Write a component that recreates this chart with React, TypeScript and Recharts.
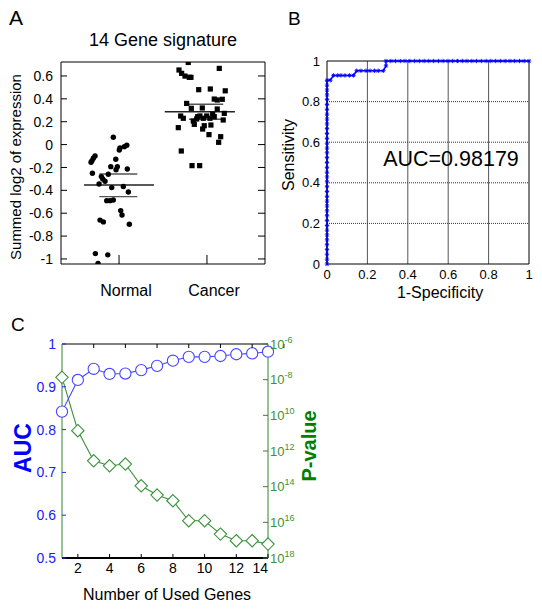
import React from 'react';
import { ScatterChart, Scatter, XAxis, YAxis, ReferenceLine, LineChart, Line, ComposedChart } from 'recharts';

const FONT = '"Liberation Sans", Arial, Helvetica, sans-serif';

// ---------- Panel A data ----------
const categories = ['Normal', 'Cancer'];
const yTicksA = [-1, -0.8, -0.6, -0.4, -0.2, 0, 0.2, 0.4, 0.6];
// [jittered category position, summed log2 expression]
const normalPoints: [number, number][] = [
  [0.935, 0.064], [1.088, -0.006], [1.06, -0.018], [1.011, -0.03], [1.003, -0.047],
  [0.727, -0.1], [0.708, -0.12], [0.693, -0.14], [0.682, -0.155], [0.963, -0.128],
  [0.906, -0.193], [0.981, -0.193], [0.966, -0.22], [1.094, -0.213], [0.697, -0.25],
  [0.799, -0.28], [0.815, -0.3], [0.878, -0.26], [0.841, -0.32], [0.773, -0.344],
  [0.917, -0.376], [1.049, -0.367], [1.106, -0.414], [0.86, -0.49], [0.898, -0.49],
  [0.935, -0.484], [1.019, -0.577], [1.034, -0.615], [0.784, -0.66], [0.822, -0.676],
  [1.117, -0.696], [0.731, -0.953], [0.872, -0.964], [0.761, -1.04],
];
const cancerPoints: [number, number][] = [
  [1.787, 0.718], [2.14, 0.666], [1.682, 0.652], [1.712, 0.623], [1.75, 0.599],
  [1.799, 0.588], [1.818, 0.588], [1.906, 0.48], [2.038, 0.486], [2.208, 0.47],
  [2.083, 0.398], [2.117, 0.39], [2.174, 0.396], [1.769, 0.36], [1.822, 0.317],
  [1.947, 0.32], [2.117, 0.311], [2.197, 0.273], [1.701, 0.25], [1.731, 0.23],
  [1.894, 0.244], [1.92, 0.25], [1.997, 0.25], [2.065, 0.265], [1.844, 0.206],
  [1.883, 0.224], [1.958, 0.23], [2.034, 0.23], [2.083, 0.244], [2.185, 0.215],
  [1.674, 0.148], [1.856, 0.177], [1.969, 0.165], [1.951, 0.136], [2.045, 0.171],
  [2.023, 0.087], [2.156, 0.069], [2.133, 0.02], [1.708, -0.056], [1.83, -0.184],
  [1.917, -0.184],
];
// mean, upper, lower summary lines
const normalSummary = [-0.353, -0.257, -0.455];
const cancerSummary = [0.287, 0.352, 0.221];

// ---------- Panel B data ----------
const rocFpr = [
  0, 0, 0, 0, 0, 0, 0, 0, 0, 0, 0, 0, 0, 0, 0, 0, 0, 0, 0, 0,
  0, 0, 0, 0, 0, 0, 0, 0, 0, 0, 0, 0, 0, 0, 0, 0, 0, 0, 0,
  0.016,
  0.032, 0.053, 0.069, 0.089, 0.111, 0.131,
  0.147, 0.168, 0.193, 0.213, 0.235, 0.254, 0.279,
  0.292, 0.292,
  0.316, 0.339, 0.363, 0.386, 0.41, 0.434, 0.457, 0.481, 0.504, 0.528,
  0.552, 0.575, 0.599, 0.622, 0.646, 0.67, 0.693, 0.717, 0.74, 0.764,
  0.788, 0.811, 0.835, 0.858, 0.882, 0.906, 0.929, 0.953, 0.976, 1.0,
];
const rocTpr = [
  0, 0.024, 0.048, 0.071, 0.095, 0.119, 0.143, 0.167, 0.19, 0.214,
  0.238, 0.262, 0.286, 0.31, 0.333, 0.357, 0.381, 0.405, 0.429, 0.452,
  0.476, 0.5, 0.524, 0.548, 0.571, 0.595, 0.619, 0.643, 0.667, 0.69,
  0.714, 0.738, 0.762, 0.786, 0.81, 0.833, 0.857, 0.881, 0.905,
  0.905,
  0.929, 0.929, 0.929, 0.929, 0.929, 0.929,
  0.952, 0.952, 0.952, 0.952, 0.952, 0.952, 0.952,
  0.976, 1,
  1, 1, 1, 1, 1, 1, 1, 1, 1, 1,
  1, 1, 1, 1, 1, 1, 1, 1, 1, 1,
  1, 1, 1, 1, 1, 1, 1, 1, 1, 1,
];
const unitTicks = [0, 0.2, 0.4, 0.6, 0.8, 1];
const gridTicks = [0.2, 0.4, 0.6, 0.8];
const aucLabel = 'AUC=0.98179';

// ---------- Panel C data ----------
const usedGenes = [1, 2, 3, 4, 5, 6, 7, 8, 9, 10, 11, 12, 13, 14];
const aucValues = [0.842, 0.916, 0.942, 0.93, 0.931, 0.939, 0.949, 0.961, 0.97, 0.97, 0.972, 0.976, 0.978, 0.982];
const pLog10 = [-7.87, -10.86, -12.55, -12.83, -12.73, -13.95, -14.47, -14.79, -15.91, -15.91, -16.66, -17.03, -17.03, -17.22];
const geneTicks = [2, 4, 6, 8, 10, 12, 14];
const aucTicks = [0.5, 0.6, 0.7, 0.8, 0.9, 1];
const pTicks = [-18, -16, -14, -12, -10, -8, -6];

const BLUE = '#0000ff';
const GREEN_AXIS = '#2f862f';
const GREEN = '#3a923a';
const C_BLUE = '#4646ff';

// ---------- tick renderers ----------
const leftTick = (len: number, gap: number, size: number, color: string, lineColor?: string) => (p: any) => (
  <g>
    {len > 0 ? <line x1={p.x} x2={p.x + len} y1={p.y} y2={p.y} stroke={lineColor || color} strokeWidth={1} /> : null}
    <text x={p.x - gap} y={p.y} dy="0.36em" textAnchor="end" fontSize={size} fill={color}>
      {String(p.payload.value)}
    </text>
  </g>
);
const rightTickLine = (len: number, color: string) => (p: any) => (
  <g>
    <line x1={p.x} x2={p.x - len} y1={p.y} y2={p.y} stroke={color} strokeWidth={1} />
  </g>
);
const topTickLine = (len: number, color: string) => (p: any) => (
  <g>
    <line x1={p.x} x2={p.x} y1={p.y} y2={p.y + len} stroke={color} strokeWidth={1} />
  </g>
);

const catTick = (p: any) => (
  <g>
    <line x1={p.x} x2={p.x} y1={p.y} y2={p.y - 9} stroke="#000" strokeWidth={1} />
    <text x={p.x + 7} y={p.y + 32} textAnchor="middle" fontSize={16} fill="#000">
      {categories[Math.round(p.payload.value) - 1]}
    </text>
  </g>
);

const bottomNumTick = (size: number, dy: number, len: number, lastEnd: boolean) => (p: any) => {
  const isLast = lastEnd && p.index === (p.visibleTicksCount ? p.visibleTicksCount - 1 : -1);
  const v = p.payload.value;
  const endAligned = lastEnd && v === geneTicks[geneTicks.length - 1];
  return (
    <g>
      {len > 0 ? <line x1={p.x} x2={p.x} y1={p.y} y2={p.y - len} stroke="#000" strokeWidth={1} /> : null}
      <text x={endAligned || isLast ? p.x : p.x} y={p.y + dy} textAnchor={endAligned ? 'end' : 'middle'} fontSize={size} fill="#000">
        {String(v)}
      </text>
    </g>
  );
};

const pTick = (p: any) => {
  const v = p.payload.value;
  const sup = v >= -8 ? String(v) : String(-v);
  return (
    <g>
      <line x1={p.x} x2={p.x - 5} y1={p.y} y2={p.y} stroke={GREEN_AXIS} strokeWidth={1} />
      <text x={p.x + 2} y={p.y} dy="0.36em" fontSize={13} fill={GREEN}>
        10
        <tspan dy={-6} fontSize={9}>{sup}</tspan>
      </text>
    </g>
  );
};

// ---------- shapes ----------
const dotShape = (p: any) => <circle cx={p.cx} cy={p.cy} r={2.7} fill="#000" />;
const squareShape = (p: any) => <rect x={p.cx - 2.6} y={p.cy - 2.6} width={5.2} height={5.2} fill="#000" />;

const StarDot = (p: any) => {
  const { cx, cy, index } = p;
  if (cx == null || cy == null) return null;
  const r = 2.2;
  const d = r * 0.7;
  return (
    <g key={'s' + index} stroke={BLUE} strokeWidth={0.9}>
      <line x1={cx - r} x2={cx + r} y1={cy} y2={cy} />
      <line x1={cx} x2={cx} y1={cy - r} y2={cy + r} />
      <line x1={cx - d} x2={cx + d} y1={cy - d} y2={cy + d} />
      <line x1={cx - d} x2={cx + d} y1={cy + d} y2={cy - d} />
    </g>
  );
};

const CircleDot = (p: any) => {
  const { cx, cy, index } = p;
  if (cx == null || cy == null) return null;
  return <circle key={'c' + index} cx={cx} cy={cy} r={5.6} fill="#fff" stroke={C_BLUE} strokeWidth={1.1} />;
};
const DiamondDot = (p: any) => {
  const { cx, cy, index } = p;
  if (cx == null || cy == null) return null;
  const s = 6.2;
  return (
    <polygon
      key={'d' + index}
      points={`${cx},${cy - s} ${cx + s},${cy} ${cx},${cy + s} ${cx - s},${cy}`}
      fill="#fff"
      stroke={GREEN}
      strokeWidth={1.1}
    />
  );
};

// ---------- Panels ----------
function PanelA() {
  const normal = normalPoints.map(([x, y]) => ({ x, y }));
  const cancer = cancerPoints.map(([x, y]) => ({ x, y }));
  const dom: [number, number] = [0.34, 2.66];
  const seg = (x1: number, x2: number, y: number) => [{ x: x1, y }, { x: x2, y }];
  return (
    <ScatterChart width={280} height={310} margin={{ top: 61, right: 14, bottom: 0, left: 0 }}>
      <XAxis xAxisId="b" type="number" dataKey="x" domain={dom} ticks={[1, 2]} allowDataOverflow
        height={46} interval={0} tickSize={0} tickMargin={0} tickLine={false}
        axisLine={{ stroke: '#000' }} tick={catTick} />
      <XAxis xAxisId="t" orientation="top" type="number" domain={dom} ticks={[1, 2]} allowDataOverflow
        height={1} interval={0} tickSize={0} tickMargin={0} tickLine={false}
        axisLine={{ stroke: '#000' }} tick={topTickLine(8, '#000')} />
      <YAxis yAxisId="l" type="number" dataKey="y" domain={[-1.044, 0.722]} ticks={yTicksA} allowDataOverflow
        width={61} interval={0} tickSize={0} tickMargin={0} tickLine={false}
        axisLine={{ stroke: '#000' }} tick={leftTick(6, 8, 14, '#000')} />
      <YAxis yAxisId="r" orientation="right" type="number" domain={[-1.044, 0.722]} ticks={yTicksA} allowDataOverflow
        width={1} interval={0} tickSize={0} tickMargin={0} tickLine={false}
        axisLine={{ stroke: '#000' }} tick={rightTickLine(7, '#000')} />
      <Scatter xAxisId="b" yAxisId="l" data={normal} shape={dotShape} isAnimationActive={false} />
      <Scatter xAxisId="b" yAxisId="l" data={cancer} shape={squareShape} isAnimationActive={false} />
      <ReferenceLine xAxisId="b" yAxisId="l" segment={seg(0.602, 1.398, normalSummary[0])} stroke="#222" strokeWidth={1.4} />
      <ReferenceLine xAxisId="b" yAxisId="l" segment={seg(0.776, 1.208, normalSummary[1])} stroke="#555" strokeWidth={1.4} />
      <ReferenceLine xAxisId="b" yAxisId="l" segment={seg(0.776, 1.208, normalSummary[2])} stroke="#555" strokeWidth={1.4} />
      <ReferenceLine xAxisId="b" yAxisId="l" segment={seg(1.52, 2.318, cancerSummary[0])} stroke="#222" strokeWidth={1.4} />
      <ReferenceLine xAxisId="b" yAxisId="l" segment={seg(1.795, 2.185, cancerSummary[1])} stroke="#555" strokeWidth={1.4} />
      <ReferenceLine xAxisId="b" yAxisId="l" segment={seg(1.795, 2.185, cancerSummary[2])} stroke="#555" strokeWidth={1.4} />
    </ScatterChart>
  );
}

function PanelB() {
  const roc = rocFpr.map((f, i) => ({ fpr: f, tpr: rocTpr[i] }));
  return (
    <LineChart width={272} height={310} data={roc} margin={{ top: 61, right: 13, bottom: 0, left: 0 }}>
      <XAxis type="number" dataKey="fpr" domain={[0, 1]} ticks={unitTicks} height={46} interval={0}
        tickSize={0} tickMargin={0} tickLine={false} axisLine={{ stroke: '#000' }}
        tick={bottomNumTick(13, 15, 0, false)} />
      <YAxis type="number" domain={[0, 1]} ticks={unitTicks} width={57} interval={0}
        tickSize={0} tickMargin={0} tickLine={false} axisLine={{ stroke: '#000' }}
        tick={leftTick(0, 7, 13, '#000')} />
      {gridTicks.map((t) => (
        <ReferenceLine key={'v' + t} x={t} stroke="#555" strokeWidth={1} />
      ))}
      {gridTicks.map((t) => (
        <ReferenceLine key={'h' + t} y={t} stroke="#333" strokeWidth={1} strokeDasharray="1 1" />
      ))}
      <ReferenceLine x={1} stroke="#000" strokeWidth={1} />
      <ReferenceLine y={1} stroke="#000" strokeWidth={1} />
      <Line type="linear" dataKey="tpr" stroke={BLUE} strokeWidth={1.5} dot={StarDot}
        activeDot={false} isAnimationActive={false} />
    </LineChart>
  );
}

function PanelC() {
  const data = usedGenes.map((n, i) => ({ n, auc: aucValues[i], logp: pLog10[i] }));
  return (
    <ComposedChart width={330} height={300} data={data} margin={{ top: 33, right: 0, bottom: 0, left: 0 }}>
      <XAxis type="number" dataKey="n" domain={[1, 14]} ticks={geneTicks} height={52} interval={0}
        tickSize={0} tickMargin={0} tickLine={false} axisLine={{ stroke: '#000', strokeWidth: 2 }}
        tick={bottomNumTick(14, 15, 4, true)} />
      <XAxis xAxisId="top" orientation="top" type="number" domain={[1, 14]} ticks={geneTicks} height={1}
        interval={0} tickSize={0} tickMargin={0} tickLine={false} axisLine={{ stroke: '#000' }}
        tick={topTickLine(4, '#000')} />
      <YAxis yAxisId="auc" type="number" domain={[0.5, 1]} ticks={aucTicks} width={62} interval={0}
        tickSize={0} tickMargin={0} tickLine={false} axisLine={{ stroke: GREEN_AXIS }}
        tick={leftTick(4, 6, 14, '#2020ff', '#2020ff')} />
      <YAxis yAxisId="p" orientation="right" type="number" domain={[-18, -6]} ticks={pTicks} width={62}
        interval={0} tickSize={0} tickMargin={0} tickLine={false} axisLine={{ stroke: GREEN_AXIS }}
        tick={pTick} />
      <Line yAxisId="p" type="linear" dataKey="logp" stroke={GREEN} strokeWidth={1.1} dot={DiamondDot}
        activeDot={false} isAnimationActive={false} />
      <Line yAxisId="auc" type="linear" dataKey="auc" stroke={C_BLUE} strokeWidth={1.1} dot={CircleDot}
        activeDot={false} isAnimationActive={false} />
    </ComposedChart>
  );
}

export default function App() {
  return (
    <div style={{ position: 'absolute', left: 0, top: 0, width: 542, height: 610, background: '#fff', fontFamily: FONT, overflow: 'hidden' }}>
      <div style={{ position: 'absolute', left: 0, top: 0 }}><PanelA /></div>
      <div style={{ position: 'absolute', left: 270, top: 0 }}><PanelB /></div>
      <div style={{ position: 'absolute', left: 0, top: 310 }}><PanelC /></div>
      <svg width={542} height={610} style={{ position: 'absolute', left: 0, top: 0, pointerEvents: 'none', fontFamily: FONT }}>
        <text x={9} y={25} fontSize={21} fill="#000">A</text>
        <text x={163} y={46} fontSize={18} textAnchor="middle" fill="#000">14 Gene signature</text>
        <text transform="translate(21,167) rotate(-90)" fontSize={15} textAnchor="middle" fill="#000">Summed log2 of expression</text>
        <text x={288} y={25} fontSize={19} fill="#000">B</text>
        <text transform="translate(294,155) rotate(-90)" fontSize={16} textAnchor="middle" fill="#000">Sensitivity</text>
        <text x={440} y={298} fontSize={16} textAnchor="middle" fill="#000">1-Specificity</text>
        <text x={451} y={166} fontSize={21.5} textAnchor="middle" fill="#000">{aucLabel}</text>
        <text x={11} y={331} fontSize={19} fill="#000">C</text>
        <text transform="translate(31,448) rotate(-90)" fontSize={23} fontWeight="bold" textAnchor="middle" fill={BLUE}>AUC</text>
        <text transform="translate(316,446) rotate(-90)" fontSize={20} fontWeight="bold" textAnchor="middle" fill="#008000">P-value</text>
        <text x={167} y={600} fontSize={16} textAnchor="middle" fill="#000">Number of Used Genes</text>
      </svg>
    </div>
  );
}
